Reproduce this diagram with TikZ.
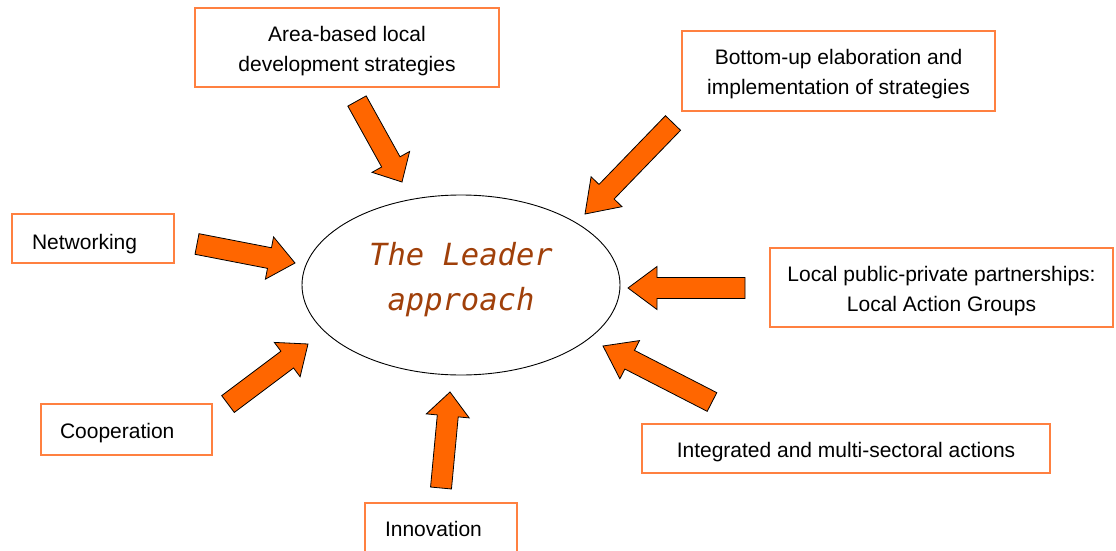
\documentclass[tikz,border=0pt]{standalone}
\usepackage{fontspec}
\setmainfont{Liberation Sans}
\newfontfamily\ellfont{DejaVu Sans Mono}
\usetikzlibrary{calc,shapes.geometric}
\definecolor{boxorange}{HTML}{FF8040}
\definecolor{arrorange}{HTML}{FF6600}
\definecolor{leaderbrown}{HTML}{A0400A}
\tikzset{
  box/.style={draw=boxorange, line width=1.1pt, rectangle, inner sep=0pt,
    font=\fontsize{21}{30}\selectfont, align=center},
  leftbox/.style={box, align=left},
  arrowfill/.style={fill=arrorange, draw=black, line width=0.8pt, line join=miter},
}
\newcommand{\blockarr}[3]{%
  \coordinate (hb) at ($(#2)!#3!(#1)$);
  \filldraw[arrowfill] ($(#1)!10.5pt!90:(#2)$) -- ($(hb)!10.5pt!90:(#2)$) -- ($(hb)!21.5pt!90:(#2)$) -- (#2)
    -- ($(hb)!21.5pt!-90:(#2)$) -- ($(hb)!10.5pt!-90:(#2)$) -- ($(#1)!10.5pt!-90:(#2)$) -- cycle;}
\begin{document}
\begin{tikzpicture}[x=1pt,y=-1pt]
\useasboundingbox (0,0) rectangle (1116,551);
\clip (0,0) rectangle (1116,551);
\fill[white] (0,0) rectangle (1116,551);

% central ellipse
\node[draw=black, line width=0.9pt, ellipse, minimum width=318pt, minimum height=180pt, inner sep=0pt,
  align=center, text=leaderbrown, font=\ellfont\itshape\fontsize{30.5}{45}\selectfont,
  text height=57.3pt, text depth=7.3pt] (leader) at (461,285)
  {The Leader\\approach};

% boxes
\node[box, minimum width=304pt, minimum height=79pt, text height=51.4pt, text depth=4.4pt] (area) at (347,47.5)
  {Area-based local\\development strategies};
\node[box, minimum width=313pt, minimum height=80pt, text height=52.4pt, text depth=4.4pt] (bottom) at (838.5,71)
  {Bottom-up elaboration and\\implementation of strategies};
\node[leftbox, minimum width=162pt, minimum height=49pt, text width=122pt, text height=21.6pt, text depth=0pt] (net) at (93,238.5)
  {Networking};
\node[leftbox, minimum width=171pt, minimum height=51pt, text width=133pt, text height=18pt, text depth=0pt] (coop) at (126.5,429.5)
  {Cooperation};
\node[leftbox, minimum width=152pt, minimum height=54pt, text width=112pt, text height=13.4pt, text depth=0pt] (innov) at (441,530)
  {Innovation};
\node[box, minimum width=343pt, minimum height=79pt, text height=52.8pt, text depth=4.4pt] (lag) at (941.5,287.5)
  {Local public-private partnerships:\\Local Action Groups};
\node[box, minimum width=408pt, minimum height=49pt, text height=18.6pt, text depth=0pt] (integ) at (846,448.5)
  {Integrated and multi-sectoral actions};

% arrow end points
\coordinate (t1) at (357,101); \coordinate (p1) at (402,182);
\coordinate (t2) at (673,123); \coordinate (p2) at (585,214);
\coordinate (t3) at (197,244); \coordinate (p3) at (295,263);
\coordinate (t4) at (228,404); \coordinate (p4) at (308,344);
\coordinate (t5) at (441,488); \coordinate (p5) at (450,392);
\coordinate (t6) at (745,288); \coordinate (p6) at (628,288);
\coordinate (t7) at (712,402); \coordinate (p7) at (603,346);

\blockarr{t1}{p1}{23pt}
\blockarr{t2}{p2}{31pt}
\blockarr{t3}{p3}{26pt}
\blockarr{t4}{p4}{26pt}
\blockarr{t5}{p5}{24pt}
\blockarr{t6}{p6}{29pt}
\blockarr{t7}{p7}{30pt}
\end{tikzpicture}
\end{document}
